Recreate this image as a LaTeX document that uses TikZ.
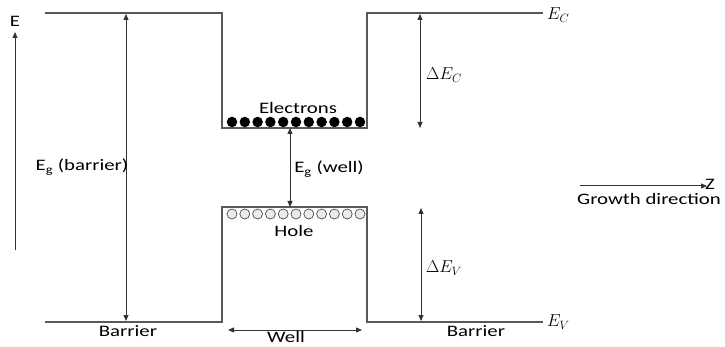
\documentclass[tikz,border=0pt]{standalone}
\usepackage{fontspec}
\setmainfont{Carlito}[FakeStretch=1.3]
\usetikzlibrary{arrows.meta}
\begin{document}
\begin{tikzpicture}[x=1pt,y=-1pt,
  band/.style={draw=black!65,line width=1.2pt},
  dim/.style={draw=black!80,line width=1pt,{Triangle[length=6pt,width=5pt]}-{Triangle[length=6pt,width=5pt]}},
  onearrow/.style={draw=black!80,line width=1pt,-{Triangle[length=6pt,width=5pt]}},
  lbl/.style={font=\fontsize{16}{18}\selectfont,inner sep=0pt},
  mlbl/.style={font=\fontsize{17}{19}\selectfont,inner sep=0pt,text=black},
  elec/.style={circle,fill=black,inner sep=0pt,minimum size=10.5pt},
  hole/.style={circle,draw=black!70,fill=black!8,inner sep=0pt,minimum size=10pt,line width=0.7pt}]
\useasboundingbox (0,0) rectangle (725,347);
% band edges
\coordinate (c1) at (45,13);
\coordinate (c2) at (222,13);
\coordinate (c3) at (222,128);
\coordinate (c4) at (367,128);
\coordinate (c5) at (367,13);
\coordinate (c6) at (543,13);
\coordinate (v1) at (45,322);
\coordinate (v2) at (222,322);
\coordinate (v3) at (222,207);
\coordinate (v4) at (367,207);
\coordinate (v5) at (367,322);
\coordinate (v6) at (543,322);
\draw[band] (c1) -- (c2) -- (c3) -- (c4) -- (c5) -- (c6);
\draw[band] (v1) -- (v2) -- (v3) -- (v4) -- (v5) -- (v6);
\node[mlbl,anchor=west] (EC) at (547,15) {$E_C$};
\node[mlbl,anchor=west] (EV) at (547,322) {$E_V$};
% E axis
\coordinate (ea0) at (15,250);
\coordinate (ea1) at (15,32);
\draw[onearrow] (ea0) -- (ea1);
\node[lbl] (E) at (15,21) {E};
% Eg barrier
\coordinate (gb0) at (126,14);
\coordinate (gb1) at (126,321);
\draw[dim] (gb0) -- (gb1);
\node[lbl] (Egb) at (82,167) {E\textsubscript{g} (barrier)};
% electrons
\foreach \i in {0,...,10} {\node[elec] (e\i) at (232+12.8*\i,122) {};}
\node[lbl] (el) at (298,108) {Electrons};
% holes
\foreach \i in {0,...,10} {\node[hole] (h\i) at (232+12.8*\i,214) {};}
\node[lbl] (hl) at (294,231) {Hole};
% Eg well
\coordinate (gw0) at (290,128);
\coordinate (gw1) at (290,207);
\draw[dim] (gw0) -- (gw1);
\node[lbl] (Egw) at (329,169) {E\textsubscript{g} (well)};
% Delta Ec / Ev
\coordinate (dc0) at (420,14);
\coordinate (dc1) at (420,128);
\draw[dim] (dc0) -- (dc1);
\node[mlbl] (dEC) at (444,75) {$\Delta E_C$};
\coordinate (dv0) at (421,208);
\coordinate (dv1) at (421,321);
\draw[dim] (dv0) -- (dv1);
\node[mlbl] (dEV) at (444,268) {$\Delta E_V$};
% well width
\coordinate (w0) at (228,330);
\coordinate (w1) at (362,330);
\draw[dim] (w0) -- (w1);
\node[lbl] (well) at (286,337) {Well};
\node[lbl] (b1) at (128,331) {Barrier};
\node[lbl] (b2) at (476,331) {Barrier};
% growth direction
\coordinate (g0) at (580,186);
\coordinate (g1) at (707,186);
\draw[onearrow] (g0) -- (g1);
\node[lbl,anchor=west] (Z) at (705,184) {Z};
\node[lbl] (gd) at (649,199) {Growth direction};
\end{tikzpicture}
\end{document}
